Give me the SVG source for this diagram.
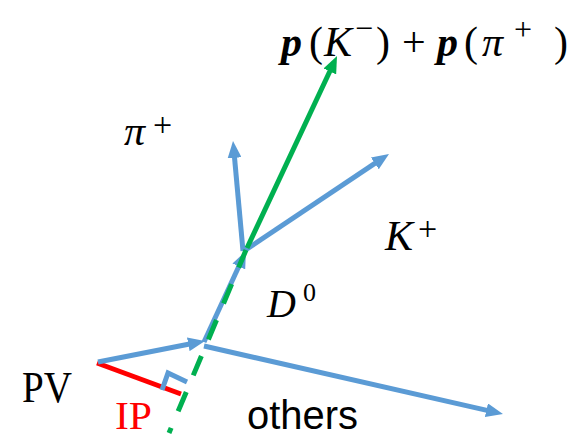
<svg xmlns="http://www.w3.org/2000/svg" width="587" height="438" viewBox="0 0 587 438">
  <style>
    .blue { stroke: #5B9BD5; stroke-width: 5; fill: none; }
    .green { stroke: #00B050; stroke-width: 5; fill: none; }
    .red { stroke: #FF0000; stroke-width: 5; fill: none; }
    .serif { font-family: "Liberation Serif", "DejaVu Serif", serif; fill: #000; }
    .math { font-family: "Liberation Serif", "DejaVu Serif", serif; font-style: italic; fill: #000; }
    .bold { font-weight: bold; }
    .up { font-family: "Liberation Serif", "DejaVu Serif", serif; font-style: normal; fill: #000; }
    .sans { font-family: "Liberation Sans", Arial, sans-serif; fill: #000; }
  </style>
  <defs>
    <marker id="ab" markerUnits="userSpaceOnUse" markerWidth="18" markerHeight="14" refX="4" refY="7" orient="auto" viewBox="0 0 18 14">
      <path d="M0,0 L17,7 L0,14 z" fill="#5B9BD5"/>
    </marker>
    <marker id="ag" markerUnits="userSpaceOnUse" markerWidth="18" markerHeight="14" refX="4" refY="7" orient="auto" viewBox="0 0 18 14">
      <path d="M0,0 L17,7 L0,14 z" fill="#00B050"/>
    </marker>
  </defs>

  <g id="connectors">
    <path id="ip" class="red" d="M97,363 L181,394"/>
    <path id="pv-sv" class="blue" d="M98,362 L192.2,343.5" marker-end="url(#ab)"/>
    <path id="d0" class="blue" d="M204,342 L240.5,262.8" marker-end="url(#ab)"/>
    <path id="others-track" class="blue" d="M204,346 L490.3,411.1" marker-end="url(#ab)"/>
    <path id="pi-track" class="blue" d="M243,251 L234.2,153.9" marker-end="url(#ab)"/>
    <path id="k-track" class="blue" d="M244,251 L378.2,161.2" marker-end="url(#ab)"/>
    <path id="green-dash" class="green" d="M246,250 L169,433" stroke-dasharray="21 18" stroke-dashoffset="2"/>
    <path id="green-sum" class="green" d="M247,248 L331.5,67.8" marker-end="url(#ag)"/>
    <polyline id="right-angle" class="blue" points="162,390 168,373 187,382"/>
  </g>

  <g id="label-pv">
    <text class="serif" x="22" y="402" font-size="44" textLength="50" lengthAdjust="spacingAndGlyphs">PV</text>
  </g>
  <g id="label-ip">
    <text class="serif" x="115" y="429" font-size="40" style="fill:#FF0000" textLength="37" lengthAdjust="spacingAndGlyphs">IP</text>
  </g>
  <g id="label-others">
    <text class="sans" x="247" y="429" font-size="40" textLength="111" lengthAdjust="spacingAndGlyphs">others</text>
  </g>
  <g id="label-pi">
    <text class="math" x="124" y="145" font-size="42">π</text>
    <text class="up" x="153" y="136" font-size="34">+</text>
  </g>
  <g id="label-k">
    <text class="math" x="385" y="250" font-size="42">K</text>
    <text class="up" x="418" y="240" font-size="34">+</text>
  </g>
  <g id="label-d0">
    <text class="math" x="267" y="317" font-size="40">D</text>
    <text class="up" x="303" y="301" font-size="26">0</text>
  </g>
  <g id="label-sum">
    <text class="math bold" font-size="42" x="281" y="56">p</text>
    <text class="up" font-size="42" x="309" y="56">(</text>
    <text class="math" font-size="42" x="324" y="56">K</text>
    <text class="up" font-size="32" x="355" y="39">−</text>
    <text class="up" font-size="42" x="376" y="56">)</text>
    <text class="up" font-size="42" x="402" y="56">+</text>
    <text class="math bold" font-size="42" x="437" y="56">p</text>
    <text class="up" font-size="42" x="464" y="56">(</text>
    <text class="math" font-size="42" x="482" y="56">π</text>
    <text class="up" font-size="32" x="514" y="40">+</text>
    <text class="up" font-size="42" x="554" y="56">)</text>
  </g>
</svg>
